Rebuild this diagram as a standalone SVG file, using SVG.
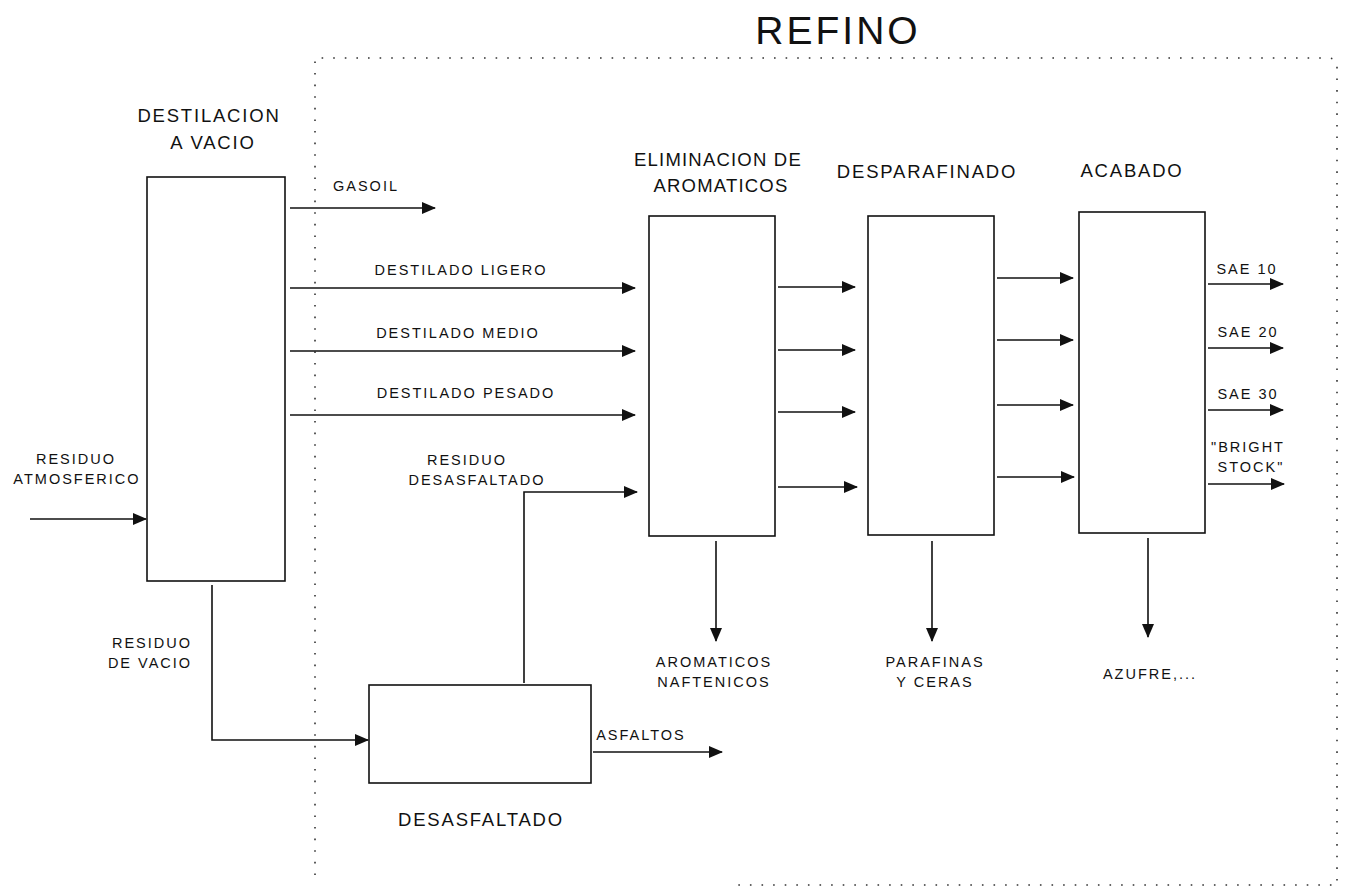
<svg xmlns="http://www.w3.org/2000/svg" width="1353" height="888" viewBox="0 0 1353 888">
<style>
text{font-family:"Liberation Sans",Arial,sans-serif;fill:#111;text-anchor:middle}
.s{font-size:14.5px;letter-spacing:2px}
.m{font-size:18.5px;letter-spacing:1.8px}
.n{letter-spacing:1.2px}
.t{font-size:39px;letter-spacing:3px}
.box{fill:none;stroke:#111;stroke-width:1.6}
.arr{fill:none;stroke:#111;stroke-width:1.6;marker-end:url(#ah)}
.dot{fill:none;stroke:#333;stroke-width:1.6;stroke-dasharray:1.6 10}
</style>
<defs>
<marker id="ah" markerUnits="userSpaceOnUse" markerWidth="14" markerHeight="14" viewBox="0 0 14 14" refX="13" refY="7" orient="auto">
<path d="M0,1 L14,7 L0,13 Z" fill="#111"/>
</marker>
</defs>
<rect width="1353" height="888" fill="#fff"/>
<text class="t" x="838" y="44">REFINO</text>
<g id="frame">
<path class="dot" d="M315,875 L315,58 L1328,58 Q1337,58 1337,67 L1337,885 L730,885"/>
</g>
<g id="destilacion">
<rect class="box" x="147" y="177" width="138" height="404"/>
<text class="m" x="209" y="122">DESTILACION</text>
<text class="m" x="213" y="149">A VACIO</text>
</g>
<g id="eliminacion">
<rect class="box" x="649" y="216" width="126" height="320"/>
<text class="m n" x="718" y="166">ELIMINACION DE</text>
<text class="m n" x="721" y="192">AROMATICOS</text>
</g>
<g id="desparafinado">
<rect class="box" x="868" y="216" width="126" height="319"/>
<text class="m" x="927" y="178">DESPARAFINADO</text>
</g>
<g id="acabado">
<rect class="box" x="1079" y="212" width="126" height="321"/>
<text class="m" x="1132" y="177">ACABADO</text>
</g>
<g id="desasfaltado">
<rect class="box" x="369" y="685" width="222" height="98"/>
<text class="m" x="481" y="826">DESASFALTADO</text>
</g>
<g id="connectors">
<path class="arr" d="M290,208 L435,208"/>
<path class="arr" d="M290,288 L635,288"/>
<path class="arr" d="M290,351 L635,351"/>
<path class="arr" d="M290,415 L635,415"/>
<path class="arr" d="M524,683 L524,492 L637,492"/>
<path class="arr" d="M30,519 L146,519"/>
<path class="arr" d="M212,585 L212,740 L368,740"/>
<path class="arr" d="M593,752 L722,752"/>
<path class="arr" d="M778,287 L855,287"/>
<path class="arr" d="M778,350 L855,350"/>
<path class="arr" d="M778,412 L855,412"/>
<path class="arr" d="M778,487 L857,487"/>
<path class="arr" d="M997,278 L1073,278"/>
<path class="arr" d="M997,340 L1073,340"/>
<path class="arr" d="M997,405 L1073,405"/>
<path class="arr" d="M997,477 L1074,477"/>
<path class="arr" d="M1208,284 L1283,284"/>
<path class="arr" d="M1208,348 L1283,348"/>
<path class="arr" d="M1208,410 L1283,410"/>
<path class="arr" d="M1208,484 L1284,484"/>
<path class="arr" d="M716,541 L716,641"/>
<path class="arr" d="M932,541 L932,641"/>
<path class="arr" d="M1148,538 L1148,637"/>
</g>
<g id="labels">
<text class="s" x="366" y="191">GASOIL</text>
<text class="s" x="461" y="275">DESTILADO LIGERO</text>
<text class="s" x="458" y="338">DESTILADO MEDIO</text>
<text class="s" x="466" y="398">DESTILADO PESADO</text>
<text class="s" x="467" y="465">RESIDUO</text>
<text class="s" x="477" y="485">DESASFALTADO</text>
<text class="s" x="76" y="464">RESIDUO</text>
<text class="s" x="77" y="484">ATMOSFERICO</text>
<text class="s" x="152" y="648">RESIDUO</text>
<text class="s" x="150" y="668">DE VACIO</text>
<text class="s" x="641" y="740">ASFALTOS</text>
<text class="s" x="1247" y="274">SAE 10</text>
<text class="s" x="1248" y="337">SAE 20</text>
<text class="s" x="1248" y="399">SAE 30</text>
<text class="s" x="1248" y="452">"BRIGHT</text>
<text class="s" x="1251" y="472">STOCK"</text>
<text class="s" x="714" y="667">AROMATICOS</text>
<text class="s" x="714" y="687">NAFTENICOS</text>
<text class="s" x="935" y="667">PARAFINAS</text>
<text class="s" x="935" y="687">Y CERAS</text>
<text class="s" x="1150" y="679">AZUFRE,...</text>
</g>
</svg>
